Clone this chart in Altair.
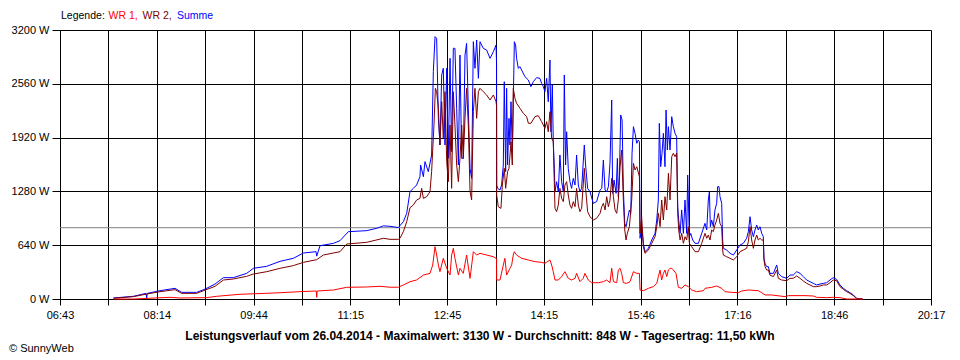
import altair as alt
import pandas as pd

# ---------------- data (time in minutes after midnight, power in W) ----------------
X_START, X_END = 403, 1217          # 06:43 .. 20:17
X_LABELS = ["06:43", "08:14", "09:44", "11:15", "12:45", "14:15", "15:46", "17:16", "18:46", "20:17"]
Y_TICKS = [0, 640, 1280, 1920, 2560, 3200]
AVERAGE = [848]

SERIES = ["WR 1", "WR 2", "Summe"]
COLORS = ["#ff0000", "#800000", "#0000ff"]

SUMME = [
    (452.9, 12), (471.6, 32), (483.4, 67), (484.0, 12), (484.6, 67), (496.5, 99), (510.5, 127),
    (516.7, 79), (530.7, 79), (538.8, 119), (547.9, 178), (555.7, 254), (565.0, 254), (577.5, 305),
    (583.7, 365), (596.2, 389), (608.6, 448), (621.1, 484), (630.4, 547), (642.3, 563), (642.9, 510),
    (646.0, 634), (658.5, 662), (664.7, 694), (672.5, 801), (689.6, 813), (699.0, 841), (705.2, 870),
    (711.4, 865), (719.2, 850), (723.9, 920), (727.0, 1019), (730.1, 1277), (733.2, 1316), (736.3, 1356),
    (739.4, 1455), (740.0, 1594), (742.6, 1455), (744.1, 1634), (747.2, 1515), (750.3, 1713), (751.9, 2704),
    (753.5, 3121), (755.0, 3101), (756.6, 2149), (758.1, 1832), (759.7, 2664), (761.2, 2744), (762.8, 1832),
    (764.4, 2744), (765.9, 1673), (767.5, 2863), (769.0, 1753), (770.6, 2982), (772.1, 2982), (773.7, 2268),
    (775.3, 1594), (776.8, 2902), (778.4, 1673), (779.9, 1673), (781.5, 2902), (783.0, 3041), (784.6, 2268),
    (786.2, 1554), (787.7, 1435), (789.3, 3061), (790.8, 2744), (792.4, 3081), (794.0, 2625), (795.5, 3061),
    (798.6, 2982), (801.7, 2962), (804.9, 2863), (808.0, 2942), (810.5, 3021),
    (811.0, 2800), (811.1, 1356), (812.0, 1316), (814.2, 1297), (815.7, 1356), (817.3, 1594), (818.2, 2585),
    (819.5, 1515), (820.4, 2506), (821.3, 1594), (822.6, 2149), (823.5, 1832), (824.5, 2347), (825.7, 1753),
    (826.6, 2308), (827.6, 3061), (828.8, 3021), (829.7, 2863), (831.3, 2744), (832.9, 2764), (834.4, 2724),
    (837.5, 2645), (840.7, 2605), (843.1, 2526), (845.3, 2585), (848.4, 2633), (851.5, 2625), (853.1, 2565),
    (854.7, 2526), (856.2, 2466), (857.8, 2625), (859.3, 2347), (860.9, 2843), (861.8, 1990), (863.1, 2546),
    (864.0, 1871), (865.0, 1554), (865.6, 1277), (867.1, 1396), (868.7, 1277), (870.2, 1713), (871.8, 1396),
    (873.4, 1277), (874.3, 2664), (875.5, 1594), (876.5, 1990), (878.0, 1554), (879.6, 1396), (881.1, 1316),
    (882.7, 1435), (884.3, 1356), (885.8, 1713), (887.4, 1356), (888.9, 1277), (890.5, 1316), (893.0, 1832),
    (894.2, 1594), (896.1, 1316), (898.3, 1277), (901.4, 1138), (904.5, 1158),
    (907.7, 1297), (909.3, 1316), (910.8, 1653), (912.4, 1297), (913.9, 1277), (915.5, 1336), (917.0, 1614),
    (918.6, 2367), (919.5, 1257), (920.8, 1415), (922.7, 1257), (923.9, 1673), (924.8, 1217), (925.8, 1455),
    (927.0, 2189), (928.3, 2129), (929.5, 1297), (930.8, 900), (932.0, 860), (933.2, 940), (935.1, 1059),
    (936.4, 1019), (937.6, 1733), (938.9, 2050), (940.4, 1971), (942.0, 1852), (943.5, 1891), (944.5, 1870),
    (945.1, 722), (946.6, 860), (948.2, 662), (949.7, 563), (952.9, 603), (956.0, 702), (959.1, 781),
    (960.7, 940), (962.2, 1178), (963.1, 2090), (964.4, 1574), (965.6, 1733), (966.9, 1971), (968.4, 1574),
    (969.4, 2248), (970.6, 1772), (971.6, 2050), (973.1, 1772), (974.7, 2169), (976.2, 2050), (977.8, 1971),
    (979.3, 1931), (980.3, 1098), (981.2, 940), (982.5, 781), (984.0, 1059), (985.6, 781), (987.1, 1178),
    (988.7, 781), (989.6, 1475), (991.2, 741), (992.4, 781), (994.3, 702), (996.5, 662), (999.6, 662),
    (1002.7, 781), (1005.8, 900),
    (1007.4, 821), (1008.9, 1178), (1009.9, 1277), (1010.8, 860), (1012.0, 940), (1013.6, 860), (1015.1, 1059),
    (1016.7, 1138), (1017.6, 1336), (1018.9, 1336), (1019.8, 1217), (1021.4, 1138), (1022.3, 702), (1022.9, 603),
    (1026.0, 583), (1029.2, 543), (1032.3, 523), (1035.4, 583), (1038.5, 642), (1041.6, 662), (1044.7, 722),
    (1046.3, 801), (1047.9, 979), (1049.4, 821), (1051.0, 741), (1052.5, 821), (1054.1, 880), (1055.6, 821),
    (1057.2, 860), (1058.8, 781), (1060.3, 741), (1060.9, 484), (1061.9, 424), (1063.4, 385), (1065.0, 385),
    (1066.5, 305), (1069.7, 305), (1072.8, 404), (1074.3, 305), (1077.4, 266),
    (1082.1, 246), (1085.2, 285), (1088.3, 285), (1091.5, 325), (1094.6, 305), (1097.7, 266), (1100.8, 226),
    (1103.9, 206), (1107.0, 186), (1110.1, 167), (1113.3, 178), (1116.4, 186), (1119.5, 194), (1122.6, 226),
    (1125.7, 254), (1128.8, 234), (1131.9, 167), (1135.1, 127), (1138.2, 99), (1141.3, 75), (1144.4, 48),
    (1147.5, 8), (1153.1, 0),
]

WR2 = [
    (452.9, 8), (471.6, 28), (484.0, 59), (496.5, 87), (510.5, 111), (516.7, 67), (530.7, 67),
    (538.8, 107), (547.9, 151), (555.7, 226), (565.0, 238), (577.5, 270), (583.7, 297), (596.2, 325),
    (608.6, 365), (621.1, 397), (630.4, 436), (642.9, 468), (649.1, 523), (664.7, 563), (670.9, 654),
    (689.6, 674), (705.2, 722),
    (711.4, 710), (719.2, 710), (720.7, 722), (723.9, 801), (727.0, 920), (730.1, 1086), (733.2, 1118),
    (736.3, 1178), (739.4, 1197), (741.0, 1316), (742.6, 1197), (745.7, 1217), (748.8, 1277), (750.3, 1515),
    (752.5, 2070), (753.8, 2506), (755.0, 2466), (756.6, 2268), (758.1, 1832), (759.7, 2347), (761.2, 1911),
    (762.8, 2466), (764.4, 1634), (765.9, 1396), (767.5, 2070), (769.0, 1316), (770.6, 2466), (772.1, 2070),
    (773.7, 1594), (775.3, 1396), (776.8, 1673), (778.4, 2070), (779.9, 1673), (781.5, 2149), (783.0, 2506),
    (784.6, 2070), (786.2, 1277), (787.7, 1178), (789.3, 2228), (790.8, 2506), (792.4, 2149), (794.0, 2466),
    (795.5, 2506), (798.6, 2466), (801.7, 2427), (804.9, 2367), (808.0, 2427), (810.5, 2347),
    (811.0, 2300), (811.1, 1237), (812.6, 1098), (815.1, 1078), (816.4, 1356), (818.2, 1554), (819.5, 1316),
    (821.3, 1515), (822.6, 1554), (824.5, 1871), (825.7, 1594), (826.6, 2506), (828.2, 2387), (829.7, 2328),
    (832.9, 2268), (836.0, 2209), (839.1, 2169), (840.7, 2090), (843.1, 2090), (846.9, 2169), (850.0, 2181),
    (853.1, 2110), (856.2, 2030), (857.8, 2110), (859.3, 1990), (860.9, 2228), (862.5, 1911), (864.0, 1871),
    (865.0, 1356), (865.6, 1078), (867.1, 1039), (868.7, 1118), (870.2, 1316), (871.8, 1197), (873.4, 1158),
    (874.9, 1356), (876.5, 1396), (878.0, 1237), (879.6, 1118), (881.1, 1078), (882.7, 1158), (884.3, 1098),
    (885.8, 1316), (887.4, 1118), (888.9, 1039), (890.5, 1078), (893.0, 1554), (894.2, 1316), (896.1, 1039),
    (898.3, 979), (901.4, 940), (904.5, 960),
    (907.7, 1019), (909.3, 1098), (910.8, 1138), (912.4, 1059), (913.9, 1217), (915.5, 1098), (917.0, 1178),
    (918.6, 1435), (920.2, 1217), (921.7, 1059), (923.3, 1019), (924.8, 1178), (926.4, 1574), (927.9, 1772),
    (929.5, 1178), (930.8, 821), (932.0, 702), (933.2, 781), (935.1, 860), (937.3, 1178), (938.9, 1614),
    (940.4, 1535), (942.0, 1574), (944.5, 1455), (945.1, 781), (946.6, 979), (948.2, 622), (949.7, 543),
    (952.9, 583), (956.0, 662), (959.1, 741), (960.7, 860), (962.2, 1019), (963.8, 860), (965.3, 1178),
    (966.9, 940), (968.4, 1217), (970.0, 1059), (971.6, 1495), (973.1, 1178), (974.7, 1693), (976.2, 1733),
    (977.8, 1693), (979.3, 1733), (980.3, 1019), (981.2, 821), (982.5, 702), (984.0, 781), (985.6, 662),
    (987.1, 741), (988.7, 702), (990.2, 860), (991.2, 662), (993.4, 622), (996.5, 563), (999.6, 563),
    (1002.7, 662), (1005.8, 781),
    (1007.4, 722), (1008.9, 761), (1010.5, 702), (1012.0, 821), (1013.6, 801), (1015.1, 880), (1016.7, 940),
    (1018.3, 1019), (1019.8, 900), (1021.4, 860), (1022.3, 583), (1022.9, 523), (1026.0, 503), (1029.2, 484),
    (1032.3, 464), (1035.4, 503), (1038.5, 563), (1041.6, 583), (1044.7, 603), (1046.3, 682), (1047.9, 860),
    (1049.4, 702), (1051.0, 603), (1052.5, 702), (1054.1, 761), (1055.6, 702), (1057.2, 722), (1058.8, 702),
    (1060.3, 702), (1060.9, 464), (1061.9, 385), (1063.4, 345), (1065.0, 345), (1066.5, 285), (1069.7, 266),
    (1072.8, 345), (1074.3, 246), (1077.4, 226),
    (1082.1, 218), (1085.2, 246), (1088.3, 246), (1091.5, 274), (1094.6, 246), (1097.7, 214), (1100.8, 186),
    (1103.9, 167), (1107.0, 147), (1110.1, 147), (1113.3, 155), (1116.4, 167), (1119.5, 167), (1122.6, 194),
    (1125.7, 226), (1128.8, 218), (1131.9, 147), (1135.1, 115), (1138.2, 87), (1141.3, 67), (1144.4, 40),
    (1147.5, 4), (1153.1, 0),
]

WR1 = [
    (452.9, 0), (471.6, 0), (505.8, 20), (515.2, 12), (540.1, 16), (549.4, 32), (571.2, 56), (602.4, 71),
    (627.3, 87), (642.5, 95), (642.9, 20), (643.3, 95), (658.5, 107), (670.9, 139), (689.6, 143),
    (702.1, 151), (711.4, 140),
    (719.2, 140), (723.9, 167), (730.1, 206), (736.3, 226), (742.6, 285), (748.8, 305), (751.3, 404),
    (753.5, 622), (755.0, 523), (756.6, 404), (758.1, 325), (761.2, 484), (764.4, 365), (767.5, 285),
    (769.0, 523), (770.6, 603), (772.1, 484), (775.3, 285), (776.8, 365), (779.9, 305), (783.0, 523),
    (786.2, 246), (789.3, 563), (792.4, 523), (795.5, 543), (801.7, 523), (808.0, 503), (810.5, 484),
    (811.0, 480), (811.1, 226), (814.2, 226), (817.3, 404), (818.8, 484), (820.4, 285), (823.5, 365),
    (825.1, 404), (826.6, 523), (827.6, 563), (829.7, 523), (834.4, 484), (840.7, 464), (846.9, 444),
    (853.1, 436), (856.2, 424), (860.9, 464), (862.5, 404), (864.0, 325), (865.6, 226), (868.7, 226),
    (871.8, 266), (874.9, 325), (878.0, 246), (881.1, 226), (884.3, 246), (885.8, 305), (888.9, 206),
    (892.0, 246), (893.6, 305), (896.7, 226), (899.8, 194), (906.1, 194),
    (910.8, 206), (913.9, 226), (917.0, 194), (918.6, 365), (920.2, 206), (923.3, 194), (924.8, 345),
    (926.4, 365), (927.9, 305), (929.5, 194), (932.6, 186), (935.7, 206), (938.9, 325), (942.0, 305),
    (944.5, 305), (945.1, 107), (948.2, 99), (952.9, 127), (957.5, 147), (960.7, 186), (962.2, 266),
    (963.8, 345), (965.3, 226), (966.9, 305), (968.4, 345), (970.0, 266), (971.6, 345), (973.1, 365),
    (974.7, 365), (976.2, 345), (978.7, 305), (980.9, 139), (984.0, 127), (987.1, 167), (990.2, 147),
    (993.4, 107), (998.0, 87), (1004.3, 99),
    (1005.8, 127), (1012.0, 139), (1016.7, 155), (1021.4, 127), (1024.5, 87), (1030.7, 79), (1036.9, 75),
    (1040.1, 95), (1046.3, 107), (1055.6, 99), (1058.8, 75), (1061.9, 48), (1068.1, 48), (1080.6, 28),
    (1083.7, 40), (1099.3, 40), (1107.0, 36), (1110.1, 20), (1119.5, 16), (1125.7, 20), (1131.9, 16),
    (1138.2, 0), (1153.1, 0),
]

LEGEND_PARTS = ["Legende:", "WR 1,", "WR 2,", "Summe"]
TITLE_TEXT = ("Leistungsverlauf vom 26.04.2014 - Maximalwert: 3130 W - "
              "Durchschnitt: 848 W - Tagesertrag: 11,50 kWh")
COPYRIGHT = "\u00a9 SunnyWeb"

# ---------------- chart ----------------
FONT = "Liberation Sans"
W, H = 871, 269

n_steps = 18
step = (X_END - X_START) / n_steps
x_tick_values = [X_START + k * step for k in range(n_steps + 1)]
label_slots = []
for i, lab in enumerate(X_LABELS):
    label_slots.append(lab)
    if i < len(X_LABELS) - 1:
        label_slots.append("")
label_array = "[" + ",".join("'" + s + "'" for s in label_slots) + "]"
x_label_expr = f"{label_array}[round((datum.value - {X_START}) / {step})]"

x_enc = alt.X(
    "t:Q",
    scale=alt.Scale(domain=[X_START, X_END], nice=False, zero=False),
    axis=alt.Axis(
        values=x_tick_values, labelExpr=x_label_expr, title=None,
        grid=True, gridColor="#000000", gridOpacity=1, gridWidth=1,
        domainColor="#000000", domainWidth=1,
        tickColor="#000000", tickSize=6, tickWidth=1,
        labelColor="#000000", labelFont=FONT, labelFontSize=11, labelPadding=4,
        labelAngle=0, labelOverlap=False, labelFlush=False,
    ),
)
y_enc = alt.Y(
    "w:Q",
    scale=alt.Scale(domain=[0, 3200], nice=False, zero=True),
    axis=alt.Axis(
        values=Y_TICKS, labelExpr="datum.value + ' W'", title=None,
        grid=True, gridColor="#000000", gridOpacity=1, gridWidth=1,
        domainColor="#000000", domainWidth=1,
        tickColor="#000000", tickSize=8, tickWidth=1,
        labelColor="#000000", labelFont=FONT, labelFontSize=11, labelPadding=3,
    ),
)


def series_df(points):
    return pd.DataFrame({"t": [p[0] for p in points], "w": [p[1] for p in points]})


avg_rule = alt.Chart(pd.DataFrame({"w": AVERAGE})).mark_rule(
    color="#808080", strokeWidth=1
).encode(y=y_enc)

line_sum = alt.Chart(series_df(SUMME)).mark_line(color=COLORS[2], strokeWidth=1).encode(x=x_enc, y=y_enc)
line_wr2 = alt.Chart(series_df(WR2)).mark_line(color=COLORS[1], strokeWidth=1).encode(x=x_enc, y=y_enc)
line_wr1 = alt.Chart(series_df(WR1)).mark_line(color=COLORS[0], strokeWidth=1).encode(x=x_enc, y=y_enc)


def text_layer(txt, x, y, color="#000000", bold=False, align="left", size=11):
    return alt.Chart(pd.DataFrame({"s": [txt]})).mark_text(
        align=align, baseline="alphabetic", font=FONT, fontSize=size,
        fontWeight="bold" if bold else "normal", color=color,
    ).encode(text="s:N", x=alt.value(x), y=alt.value(y))


legend_colors = ["#000000"] + COLORS
legend_x = [1, 48.5, 82.5, 117]
legend_layers = [text_layer(t, x, -11, c, size=10.5)
                 for t, x, c in zip(LEGEND_PARTS, legend_x, legend_colors)]

title_layer = text_layer(TITLE_TEXT, 420, 310, bold=True, align="center", size=12)
copy_layer = text_layer(COPYRIGHT, -51, 322)

chart = alt.layer(
    avg_rule, line_sum, line_wr2, line_wr1, *legend_layers, title_layer, copy_layer
).properties(
    width=W, height=H,
    autosize=alt.AutoSizeParams(type="none"),
    padding={"left": 52, "top": 22, "right": 20, "bottom": 58},
    background="#ffffff",
).configure_view(strokeWidth=0)

chart.save("out.html", embed_options={"renderer": "svg", "actions": False})
